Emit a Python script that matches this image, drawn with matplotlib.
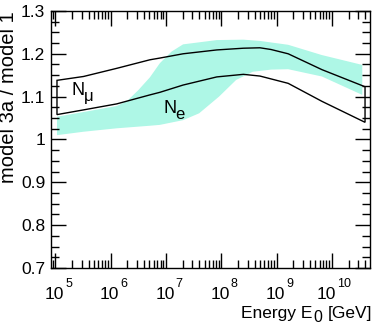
import numpy as np
import matplotlib
matplotlib.use("Agg")
import matplotlib.pyplot as plt
from matplotlib.ticker import LogLocator, MultipleLocator, FixedLocator, NullFormatter

plt.rcParams['font.family'] = ['Liberation Sans', 'DejaVu Sans']

# N_mu band (outline): log10(E) vs ratio
mu_logE_hi = [5.03, 5.51, 6.11, 6.71, 6.89, 7.31, 7.92, 8.40, 8.70, 8.90, 9.21, 9.82, 10.60]
mu_hi = [1.138, 1.147, 1.166, 1.186, 1.190, 1.200, 1.209, 1.213, 1.214, 1.210, 1.200, 1.163, 1.123]
mu_logE_lo = [5.03, 5.51, 6.11, 6.71, 6.89, 7.31, 7.92, 8.40, 8.70, 9.21, 9.82, 10.60]
mu_lo = [1.058, 1.069, 1.083, 1.104, 1.110, 1.127, 1.146, 1.152, 1.148, 1.131, 1.089, 1.040]

# N_e band (filled)
e_logE_hi = [5.03, 5.51, 6.11, 6.30, 6.50, 6.71, 6.89, 7.10, 7.31, 7.92, 8.40, 8.70, 9.21, 9.82, 10.55]
e_hi = [1.053, 1.064, 1.078, 1.090, 1.115, 1.145, 1.178, 1.205, 1.222, 1.232, 1.233, 1.230, 1.221, 1.197, 1.174]
e_logE_lo = [5.03, 5.51, 6.11, 6.71, 6.89, 7.31, 7.60, 7.96, 8.27, 8.57, 8.90, 9.21, 9.82, 10.55]
e_lo = [1.010, 1.018, 1.026, 1.032, 1.034, 1.045, 1.061, 1.100, 1.139, 1.158, 1.163, 1.164, 1.147, 1.104]

x_exponents = [5, 6, 7, 8, 9, 10]
yticks = [0.7, 0.8, 0.9, 1.0, 1.1, 1.2, 1.3]
yticklabels = ['0.7', '0.8', '0.9', '1', '1.1', '1.2', '1.3']

W, H = 373, 332
fig = plt.figure(figsize=(W / 100, H / 100), dpi=100)
ax = fig.add_axes([0.136, 0.193, 0.856, 0.774])

ex = np.concatenate([10.0 ** np.array(e_logE_hi), 10.0 ** np.array(e_logE_lo)[::-1]])
ey = np.concatenate([e_hi, e_lo[::-1]])
ax.fill(ex, ey, facecolor='#aef7e6', edgecolor='none', zorder=1)

mx = np.concatenate([10.0 ** np.array(mu_logE_hi), 10.0 ** np.array(mu_logE_lo)[::-1]])
my = np.concatenate([mu_hi, mu_lo[::-1]])
ax.fill(mx, my, fill=False, edgecolor='black', linewidth=1.0, zorder=2)

ax.set_xscale('log')
ax.set_xlim(10 ** 4.917, 10 ** 10.69)
ax.set_ylim(0.7, 1.3)

ax.xaxis.set_major_locator(FixedLocator([10.0 ** k for k in x_exponents]))
ax.xaxis.set_major_formatter(NullFormatter())
ax.xaxis.set_minor_locator(LogLocator(base=10, subs=np.arange(2, 10), numticks=20))
ax.xaxis.set_minor_formatter(NullFormatter())
ax.yaxis.set_major_locator(FixedLocator(yticks))
ax.yaxis.set_minor_locator(MultipleLocator(0.025))
ax.set_yticklabels(yticklabels)

ax.tick_params(which='both', direction='in', top=True, right=True, width=1.0)
ax.tick_params(which='major', length=10.5)
ax.tick_params(which='minor', length=5.5)
ax.tick_params(axis='y', which='major', labelsize=12.5, pad=4)
for s in ax.spines.values():
    s.set_linewidth(1.0)

# x tick labels, ROOT style with large exponents (offsets in px -> pt)
pt = 0.72
for k in x_exponents:
    n = len(str(k))
    total = 19 + 1 + 8.5 * n
    left = 4 - total / 2
    ax.annotate('10', xy=(10.0 ** k, 0), xycoords=('data', 'axes fraction'),
                xytext=((left + 19) * pt, -31 * pt), textcoords='offset points',
                ha='right', va='baseline', fontsize=12.5)
    ax.annotate(str(k), xy=(10.0 ** k, 0), xycoords=('data', 'axes fraction'),
                xytext=((left + 20) * pt, -19 * pt), textcoords='offset points',
                ha='left', va='baseline', fontsize=9)

ax.set_ylabel('model 3a / model 1', fontsize=14.5, loc='top', labelpad=2)

# x axis title with big subscript
fig.text(372 / W, 1 - 318.3 / H, '[GeV]', ha='right', va='baseline', fontsize=12.5)
fig.text(313 / W, 1 - 322 / H, '0', ha='left', va='baseline', fontsize=11.5)
fig.text(312 / W, 1 - 318.3 / H, 'Energy E', ha='right', va='baseline', fontsize=12.5)

# labels with large ROOT-style subscripts
ax.text(10 ** 5.30, 1.104, 'N', fontsize=13)
ax.text(10 ** 5.52, 1.090, '\u03bc', fontsize=12)
ax.text(10 ** 6.95, 1.062, 'N', fontsize=13)
ax.text(10 ** 7.17, 1.048, 'e', fontsize=12)

fig.savefig('out.png', dpi=100)
